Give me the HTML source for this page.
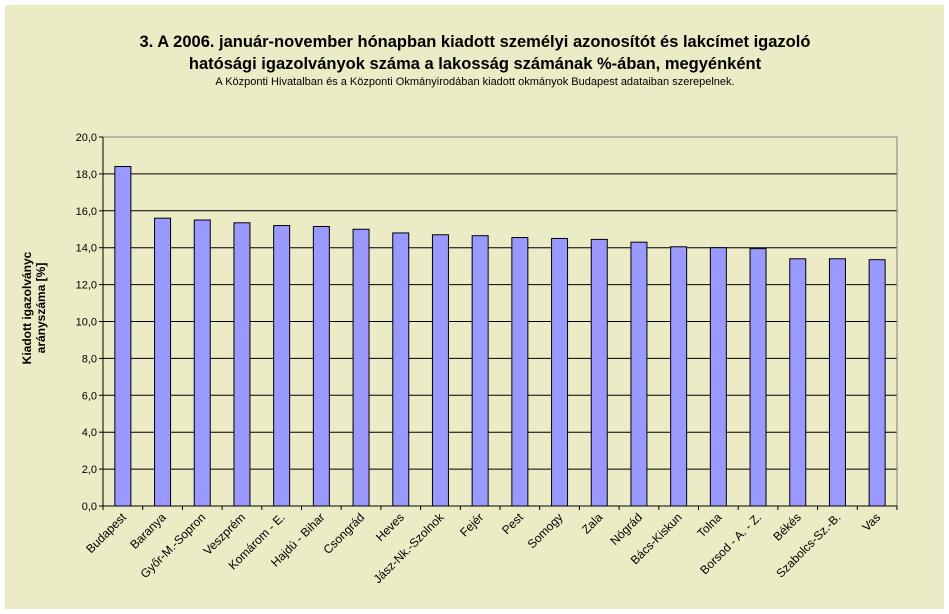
<!DOCTYPE html>
<html><head><meta charset="utf-8"><style>
body{margin:0;background:#fff;width:949px;height:614px;overflow:hidden}
svg{display:block;font-family:"Liberation Sans",Arial,sans-serif}
</style></head><body>
<svg id="chart" width="949" height="614">
<rect x="5" y="5" width="939" height="604" fill="#EBEBC6"/>
<text x="475" y="47" text-anchor="middle" font-size="16.5" font-weight="bold">3. A 2006. január-november hónapban kiadott személyi azonosítót és lakcímet igazoló</text>
<text x="475" y="69" text-anchor="middle" font-size="16.5" font-weight="bold">hatósági igazolványok száma a lakosság  számának %-ában, megyénként</text>
<text x="475" y="85" text-anchor="middle" font-size="11">A Központi Hivatalban és a Központi Okmányirodában kiadott okmányok Budapest adataiban szerepelnek.</text>
<g transform="translate(31,308) rotate(-90)">
<text x="0" y="0" text-anchor="middle" font-size="12" font-weight="bold">Kiadott igazolványc</text>
<text x="0" y="14" text-anchor="middle" font-size="12" font-weight="bold">arányszáma [%]</text>
</g>
<g id="grid"></g><g id="bars"></g><g id="axes"></g>
</svg>
<script>
const categories=["Budapest","Baranya","Győr-M.-Sopron","Veszprém","Komárom - E.","Hajdú - Bihar","Csongrád","Heves","Jász-Nk.-Szolnok","Fejér","Pest","Somogy","Zala","Nógrád","Bács-Kiskun","Tolna","Borsod - A. - Z.","Békés","Szabolcs-Sz.-B.","Vas"];
const values=[18.4,15.6,15.5,15.35,15.2,15.15,15.0,14.8,14.7,14.65,14.55,14.5,14.45,14.3,14.05,14.0,13.95,13.4,13.4,13.35];
const yTicks=[0,2,4,6,8,10,12,14,16,18,20];
const NS="http://www.w3.org/2000/svg";
const L=103,R=897,T=137,B=506,yMax=20;
const y=v=>B-(v/yMax)*(B-T);
const step=(R-L)/categories.length;
const xc=i=>L+step*(i+0.5);
function mk(tag,attrs,parent){const e=document.createElementNS(NS,tag);for(const k in attrs)e.setAttribute(k,attrs[k]);parent.appendChild(e);return e;}
const grid=document.getElementById('grid'),bars=document.getElementById('bars'),axes=document.getElementById('axes');
yTicks.forEach(t=>{
 const ln=mk('line',{x1:L,x2:R,y1:y(t),y2:y(t),stroke:t===yMax?'#808080':'#000','stroke-width':1},grid);
 
 
 const tk=mk('line',{x1:L-4,x2:L,y1:y(t),y2:y(t),stroke:'#000'},axes);
 
 
 const tx=mk('text',{x:L-6,y:y(t)+4,'text-anchor':'end','font-size':11},axes);
 tx.textContent=t.toFixed(1).replace('.',',');
 
 
});
values.forEach((v,i)=>{
 const w=16;
 const r=mk('rect',{x:xc(i)-w/2,y:y(v),width:w,height:B-y(v),fill:'#9999FF',stroke:'#000','stroke-width':1},bars);
 
 
});
mk('line',{x1:L,x2:L,y1:T,y2:B,stroke:'#000'},axes);
mk('line',{x1:R,x2:R,y1:T,y2:B,stroke:'#808080'},axes);
mk('line',{x1:L-4,x2:R,y1:B,y2:B,stroke:'#000'},axes);
for(let i=0;i<=categories.length;i++){
 const tk=mk('line',{x1:L+step*i,x2:L+step*i,y1:B,y2:B+4,stroke:'#000'},axes);
 
 
}
categories.forEach((c,i)=>{
 const tx=mk('text',{x:0,y:0,'text-anchor':'end','font-size':12,transform:`translate(${xc(i)+4},${B+12}) rotate(-45)`},axes);
 tx.textContent=c;
 
 
});
</script>
</body></html>
